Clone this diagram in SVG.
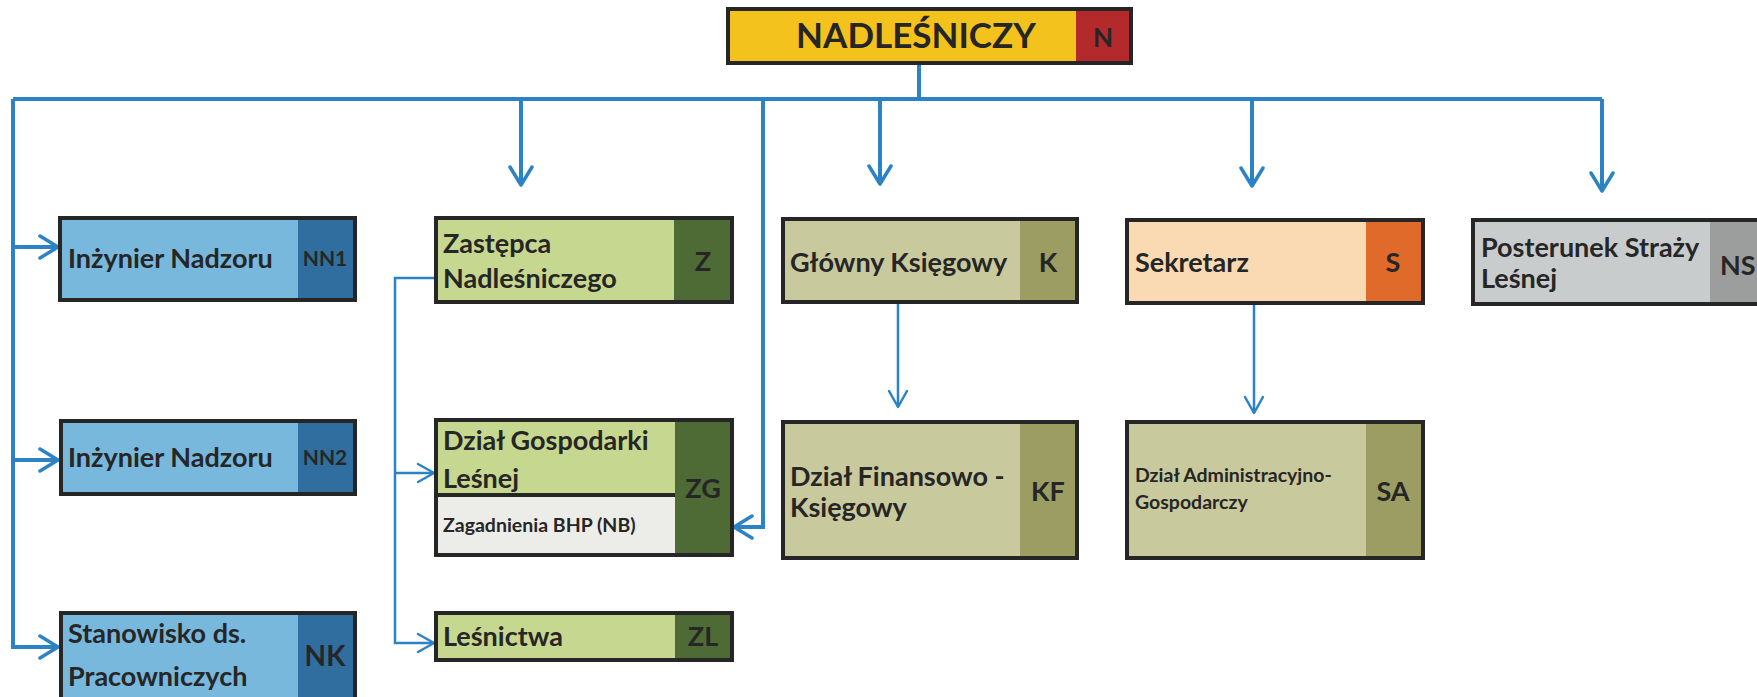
<svg xmlns="http://www.w3.org/2000/svg" width="1757" height="697" viewBox="0 0 1757 697">
<defs>
<marker id="arr" markerUnits="userSpaceOnUse" viewBox="0 0 22 26" refX="20" refY="13" markerWidth="22" markerHeight="26" orient="auto">
<path d="M2,2 L20,13 L2,24" fill="none" stroke="#2b83c6" stroke-width="3.5" stroke-linecap="round" stroke-linejoin="round"/>
</marker>
<marker id="arrs" markerUnits="userSpaceOnUse" viewBox="0 0 20 22" refX="18" refY="11" markerWidth="20" markerHeight="22" orient="auto">
<path d="M2,2 L18,11 L2,20" fill="none" stroke="#2b83c6" stroke-width="2.5" stroke-linecap="round" stroke-linejoin="round"/>
</marker>
<style>
.t{font-family:Lato,"Liberation Sans",sans-serif;font-weight:bold;fill:#262626;font-size:27px}
.s{font-size:19.5px}
.k{font-size:21px}
.c{text-anchor:middle}
.b{fill:none;stroke:#262626;stroke-width:4}
.m{fill:none;stroke:#2b83c6;stroke-width:4;marker-end:url(#arr)}
.l{fill:none;stroke:#2b83c6;stroke-width:2.5;marker-end:url(#arrs)}
</style>
</defs>
<rect width="1757" height="697" fill="#ffffff"/>
<g id="connectors">
<path d="M919,62 V99" class="m" style="marker-end:none"/>
<path d="M13,99 H1602" class="m" style="marker-end:none"/>
<path d="M13,99 V647 H58" class="m"/>
<path d="M13,247 H58" class="m"/>
<path d="M13,460 H58" class="m"/>
<path d="M521,99 V185" class="m"/>
<path d="M880,99 V184" class="m"/>
<path d="M1252,99 V186" class="m"/>
<path d="M1602,99 V191" class="m"/>
<path d="M763,99 V527 H734" class="m"/>
<path d="M436,278 H395 V643 H434" class="l"/>
<path d="M395,473 H434" class="l"/>
<path d="M898,302 V407" class="l"/>
<path d="M1254,303 V413" class="l"/>
</g>
<g id="N">
<rect x="728" y="9" width="403" height="54" fill="#f4c21c"/>
<rect x="1076" y="9" width="55" height="54" fill="#b3292c"/>
<rect x="728" y="9" width="403" height="54" class="b"/>
<text x="916" y="48" class="t c" style="font-size:35px">NADLEŚNICZY</text>
<text x="1103" y="47" class="t c" style="font-size:26px">N</text>
</g>
<g id="NN1">
<rect x="60" y="218" width="295" height="82" fill="#78b8dd"/>
<rect x="298" y="218" width="57" height="82" fill="#2f6e9e"/>
<rect x="60" y="218" width="295" height="82" class="b"/>
<text x="68" y="268" class="t">Inżynier Nadzoru</text>
<text x="325" y="266" class="t k c">NN1</text>
</g>
<g id="NN2">
<rect x="61" y="421" width="294" height="73" fill="#78b8dd"/>
<rect x="298" y="421" width="57" height="73" fill="#2f6e9e"/>
<rect x="61" y="421" width="294" height="73" class="b"/>
<text x="68" y="467" class="t">Inżynier Nadzoru</text>
<text x="325" y="465" class="t k c">NN2</text>
</g>
<g id="NK">
<rect x="61" y="613" width="294" height="95" fill="#78b8dd"/>
<rect x="298" y="613" width="57" height="95" fill="#2f6e9e"/>
<rect x="61" y="613" width="294" height="95" class="b"/>
<text x="68" y="643" class="t">Stanowisko ds.</text>
<text x="68" y="686" class="t">Pracowniczych</text>
<text x="325" y="666" class="t c" style="font-size:28px">NK</text>
</g>
<g id="Z">
<rect x="436" y="218" width="296" height="84" fill="#c6d78f"/>
<rect x="674" y="218" width="58" height="84" fill="#4f6b35"/>
<rect x="436" y="218" width="296" height="84" class="b"/>
<text x="443" y="253" class="t">Zastępca</text>
<text x="443" y="288" class="t">Nadleśniczego</text>
<text x="703" y="271" class="t c">Z</text>
</g>
<g id="ZG">
<rect x="436" y="420" width="296" height="135" fill="#c6d78f"/>
<rect x="436" y="495" width="239" height="60" fill="#ecede8"/>
<rect x="675" y="420" width="57" height="135" fill="#4f6b35"/>
<path d="M436,495 H675" class="b"/>
<rect x="436" y="420" width="296" height="135" class="b"/>
<text x="443" y="450" class="t">Dział Gospodarki</text>
<text x="443" y="488" class="t">Leśnej</text>
<text x="443" y="532" class="t s">Zagadnienia BHP (NB)</text>
<text x="703" y="498" class="t c">ZG</text>
</g>
<g id="ZL">
<rect x="436" y="613" width="296" height="47" fill="#c6d78f"/>
<rect x="675" y="613" width="57" height="47" fill="#4f6b35"/>
<rect x="436" y="613" width="296" height="47" class="b"/>
<text x="443" y="646" class="t">Leśnictwa</text>
<text x="703" y="646" class="t c">ZL</text>
</g>
<g id="K">
<rect x="783" y="219" width="294" height="83" fill="#c8c99c"/>
<rect x="1020" y="219" width="57" height="83" fill="#9b9d62"/>
<rect x="783" y="219" width="294" height="83" class="b"/>
<text x="790" y="272" class="t">Główny Księgowy</text>
<text x="1048" y="272" class="t c">K</text>
</g>
<g id="KF">
<rect x="783" y="422" width="294" height="136" fill="#c8c99c"/>
<rect x="1020" y="422" width="57" height="136" fill="#9b9d62"/>
<rect x="783" y="422" width="294" height="136" class="b"/>
<text x="790" y="486" class="t">Dział Finansowo -</text>
<text x="790" y="517" class="t">Księgowy</text>
<text x="1048" y="501" class="t c">KF</text>
</g>
<g id="S">
<rect x="1127" y="220" width="296" height="83" fill="#f9dab2"/>
<rect x="1366" y="220" width="57" height="83" fill="#df6a2a"/>
<rect x="1127" y="220" width="296" height="83" class="b"/>
<text x="1135" y="272" class="t">Sekretarz</text>
<text x="1393" y="272" class="t c">S</text>
</g>
<g id="SA">
<rect x="1127" y="422" width="296" height="136" fill="#c8c99c"/>
<rect x="1366" y="422" width="57" height="136" fill="#9b9d62"/>
<rect x="1127" y="422" width="296" height="136" class="b"/>
<text x="1135" y="482" class="t s">Dział Administracyjno-</text>
<text x="1135" y="509" class="t s">Gospodarczy</text>
<text x="1393" y="501" class="t c">SA</text>
</g>
<g id="NS">
<rect x="1473" y="220" width="300" height="84" fill="#c9cccd"/>
<rect x="1710" y="220" width="63" height="84" fill="#9c9e9e"/>
<rect x="1473" y="220" width="300" height="84" class="b"/>
<text x="1481" y="257" class="t">Posterunek Straży</text>
<text x="1481" y="288" class="t">Leśnej</text>
<text x="1720" y="275" class="t">NS</text>
</g>
</svg>
